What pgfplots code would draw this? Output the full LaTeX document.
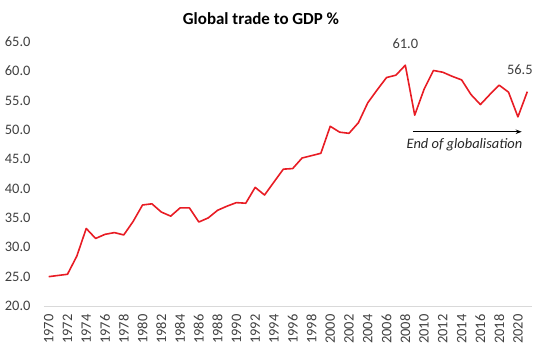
\documentclass[border=0pt]{standalone}
\usepackage{fontspec}
\setmainfont{Carlito}
\usepackage{pgfplots}
\pgfplotsset{compat=1.18}
\usetikzlibrary{arrows.meta}
\definecolor{linered}{RGB}{232,28,36}
\definecolor{ticktext}{RGB}{64,64,64}
\definecolor{axgray}{RGB}{217,217,217}
\begin{document}
\begin{tikzpicture}[x=1bp,y=1bp]
\path[use as bounding box] (-44,-45) rectangle (496,306);
\begin{axis}[
  at={(0,0)}, anchor=south west,
  scale only axis,
  width=488bp, height=264.3bp,
  xmin=1969.5, xmax=2021.5,
  ymin=20, ymax=65,
  axis x line*=bottom,
  axis y line*=left,
  x axis line style={draw=axgray, line width=0.8bp, -},
  y axis line style={draw=none},
  ytick={20,25,...,65},
  xtick={1970,1972,...,2020},
  major tick length=0pt,
  tick style={draw=none},
  /pgf/number format/assume math mode=true,
  yticklabel style={/pgf/number format/.cd, fixed, fixed zerofill, precision=1, /tikz/.cd, font=\fontsize{14.5}{17}\selectfont, text=ticktext, anchor=east, xshift=-10bp},
  xticklabel style={font=\fontsize{14.5}{17}\selectfont, text=ticktext, rotate=90, anchor=east, xshift=-5bp},
  xticklabel={\pgfmathprintnumber[1000 sep={}]{\tick}},
  clip=false,
]
\addplot[linered, line width=1.6bp, line join=round, mark=none] coordinates {
(1970,25.0) (1971,25.2) (1972,25.4) (1973,28.5) (1974,33.2) (1975,31.5)
(1976,32.2) (1977,32.5) (1978,32.1) (1979,34.4) (1980,37.2) (1981,37.4)
(1982,36.0) (1983,35.3) (1984,36.7) (1985,36.7) (1986,34.3) (1987,35.0)
(1988,36.3) (1989,37.0) (1990,37.6) (1991,37.5) (1992,40.2) (1993,38.9)
(1994,41.1) (1995,43.3) (1996,43.4) (1997,45.2) (1998,45.6) (1999,46.0)
(2000,50.6) (2001,49.6) (2002,49.4) (2003,51.2) (2004,54.6) (2005,56.8)
(2006,58.9) (2007,59.3) (2008,61.0) (2009,52.5) (2010,56.9) (2011,60.1)
(2012,59.8) (2013,59.1) (2014,58.5) (2015,56.0) (2016,54.3) (2017,56.0)
(2018,57.6) (2019,56.4) (2020,52.2) (2021,56.5)
};
\node[font=\fontsize{14.5}{17}\selectfont, text=ticktext] at (axis cs:2008,64.7) {61.0};
\node[font=\fontsize{14.5}{17}\selectfont, text=ticktext] at (axis cs:2020.2,60.3) {56.5};
\draw[-{Stealth[length=6bp,width=4.5bp]}, line width=1.2bp, black] (axis cs:2008.8,49.67) -- (axis cs:2020.4,49.67);
\node[font=\fontsize{14.5}{17}\selectfont\itshape, text=black!85] at (axis cs:2014.3,47.4) {End of globalisation};
\end{axis}
\node[font=\fontsize{17}{20}\selectfont\bfseries] at (217,287.7) {Global trade to GDP \%};
\end{tikzpicture}
\end{document}
